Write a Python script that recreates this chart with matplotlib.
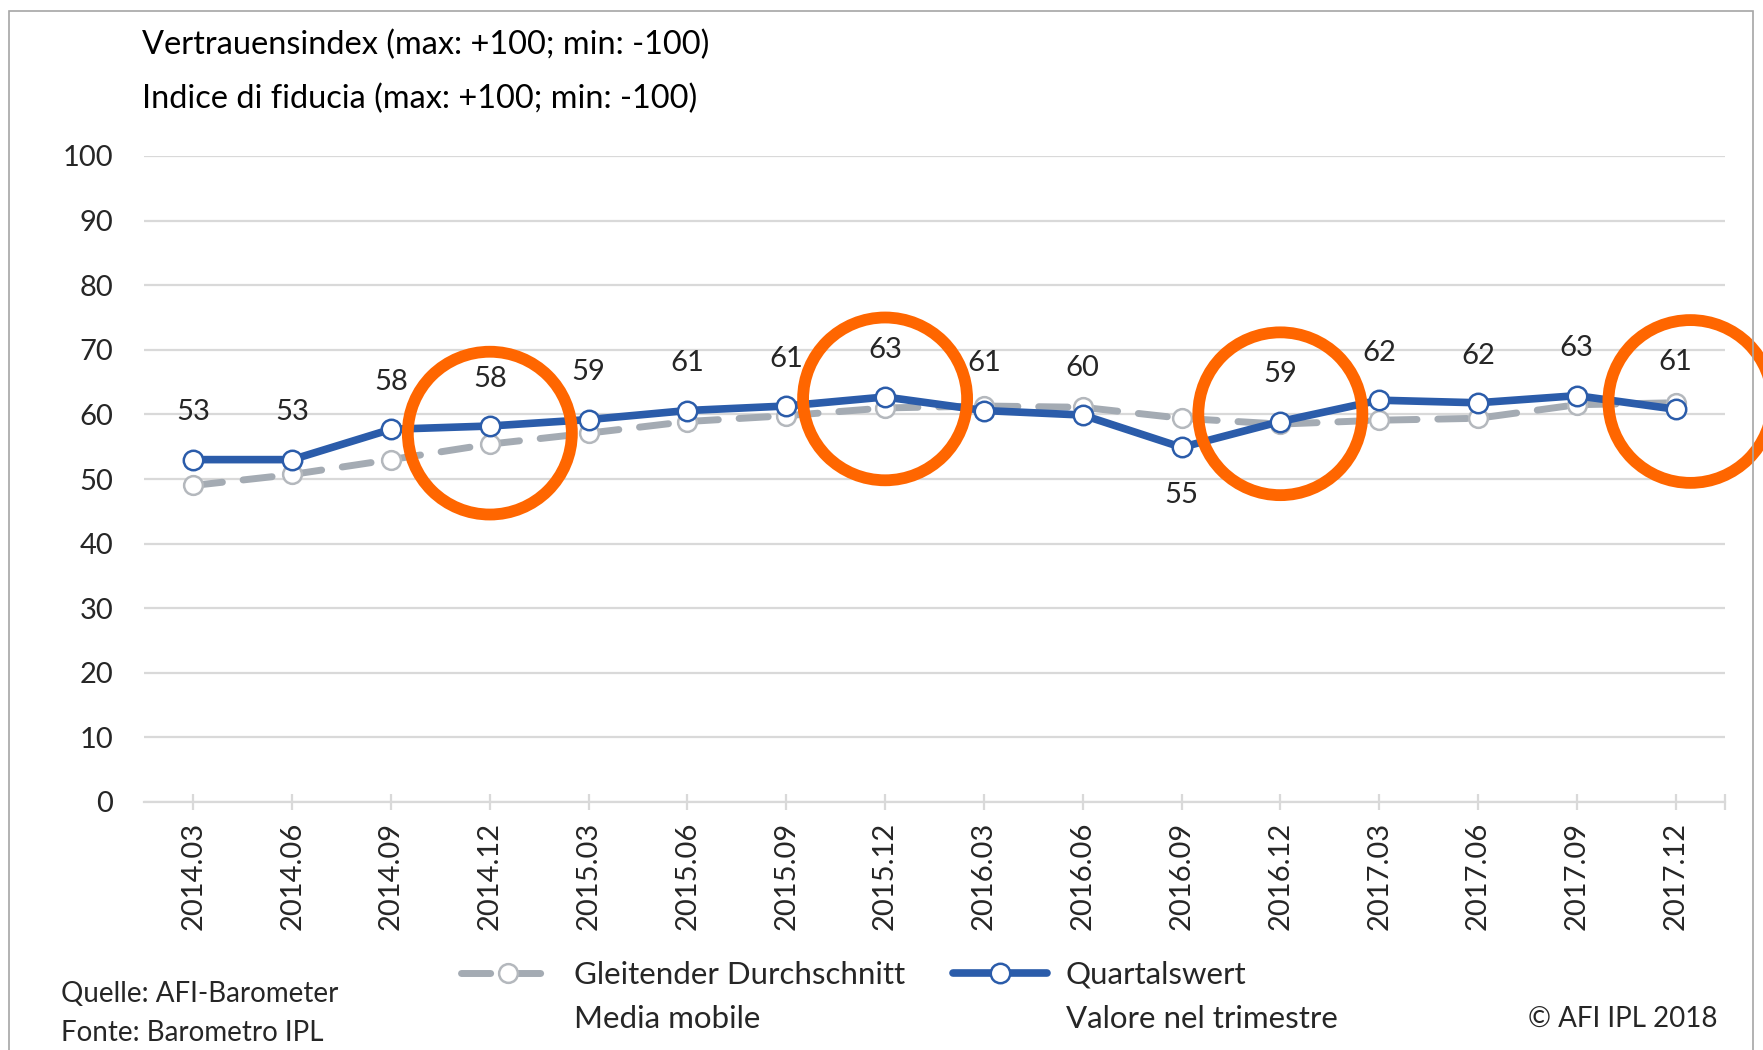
import numpy as np
import matplotlib.pyplot as plt
from matplotlib.patches import Ellipse, Rectangle

plt.rcParams['font.family'] = ['Lato', 'DejaVu Sans']

quarters = ['2014.03', '2014.06', '2014.09', '2014.12', '2015.03', '2015.06',
            '2015.09', '2015.12', '2016.03', '2016.06', '2016.09', '2016.12',
            '2017.03', '2017.06', '2017.09', '2017.12']
quarterly = [53.0, 53.0, 57.7, 58.2, 59.2, 60.6, 61.3, 62.7,
             60.6, 59.9, 54.9, 58.9, 62.2, 61.8, 62.9, 60.8]
moving_avg = [49.0, 50.7, 53.0, 55.4, 57.1, 58.9, 59.8, 61.0,
              61.3, 61.1, 59.4, 58.5, 59.1, 59.4, 61.5, 61.8]
# highlighted quarters (orange rings): index, centre
highlight_x = [3, 7, 11, 15.15]
highlight_y = [57.1, 62.4, 60.1, 62.0]

blue = '#2B5CAA'
grey = '#A4ABB3'
grid_col = '#D9D9D9'
txt = '#262626'

fig = plt.figure(figsize=(17.63, 10.5), dpi=100)
W, H = 1763, 1050
ax = fig.add_axes([144 / W, 1 - 802 / H, (1725 - 144) / W, (802 - 156) / H])

x = np.arange(len(quarters))

ax.plot(x, moving_avg, color=grey, lw=5, dashes=(4.2, 3.0), dash_capstyle='round',
        marker='o', ms=13.5, mfc='white', mec='#B4B8BD', mew=1.8, zorder=3,
        label='Gleitender Durchschnitt')
ax.plot(x, quarterly, color=blue, lw=5.5, solid_capstyle='round',
        marker='o', ms=14, mfc='white', mec=blue, mew=1.8, zorder=4,
        label='Quartalswert')

# labels above, except at a clear dip
for i, v in enumerate(quarterly):
    dip = (0 < i < len(quarterly) - 1 and v < quarterly[i - 1] - 2
           and v < quarterly[i + 1] - 2)
    off = -34 if dip else 34
    ax.annotate('%.0f' % v, (x[i], v), xytext=(0, off), textcoords='offset points',
                ha='center', va='center', fontsize=21, color=txt, zorder=5)

for hx, hy in zip(highlight_x, highlight_y):
    ax.add_patch(Ellipse((hx, hy), 1.66, 25.2, fill=False, ec='#FF6600', lw=8.5,
                         zorder=6, clip_on=False))

ax.set_xlim(-0.5, 15.5)
ax.set_ylim(0, 100)
ax.set_yticks(range(0, 101, 10))
ax.set_xticks(x)
ax.set_xticklabels(quarters, rotation=90)
ax.set_xticks([15.5], minor=True)
ax.grid(axis='y', color=grid_col, lw=1.6)
ax.set_axisbelow(True)
for s in ['top', 'right', 'left']:
    ax.spines[s].set_visible(False)
ax.spines['bottom'].set_color(grid_col)
ax.spines['bottom'].set_linewidth(1.6)
ax.tick_params(axis='y', length=0, pad=22, labelsize=21, labelcolor=txt)
ax.tick_params(axis='x', which='both', direction='inout', length=12, width=1.6,
               color=grid_col, pad=8, labelsize=21, labelcolor=txt)

fig.text(142 / W, 1 - 45 / H, 'Vertrauensindex (max: +100; min: -100)',
         fontsize=23.4, color='black', va='center')
fig.text(142 / W, 1 - 99 / H, 'Indice di fiducia (max: +100; min: -100)',
         fontsize=23.4, color='black', va='center')

fig.text(61 / W, 1 - 994 / H, 'Quelle: AFI-Barometer', fontsize=20, color=txt, va='center')
fig.text(61 / W, 1 - 1033 / H, 'Fonte: Barometro IPL', fontsize=20, color=txt, va='center')
fig.text(1718 / W, 1 - 1019 / H, '© AFI IPL 2018', fontsize=20, color=txt,
         va='center', ha='right')

leg = fig.legend(loc='center left', bbox_to_anchor=(461 / W, 1 - 975 / H), ncol=2,
                 frameon=False, fontsize=22.5, handlelength=3.0, handletextpad=0.6,
                 columnspacing=1.55, borderpad=0, borderaxespad=0)
for t in leg.get_texts():
    t.set_color(txt)

fig.canvas.draw()
second = ['Media mobile', 'Valore nel trimestre']
inv = fig.transFigure.inverted()
for t, s in zip(leg.get_texts(), second):
    bb = t.get_window_extent()
    x0 = inv.transform((bb.x0, 0))[0]
    fig.text(x0, 1 - 1019 / H, s, fontsize=22.5, color=txt, va='center')

fig.patches.append(Rectangle((9 / W, -0.1), (1753 - 9) / W, 1.1 - 11 / H,
                             transform=fig.transFigure, fill=False,
                             ec='#A6A6A6', lw=1.2))

fig.savefig('out.png', dpi=100)
